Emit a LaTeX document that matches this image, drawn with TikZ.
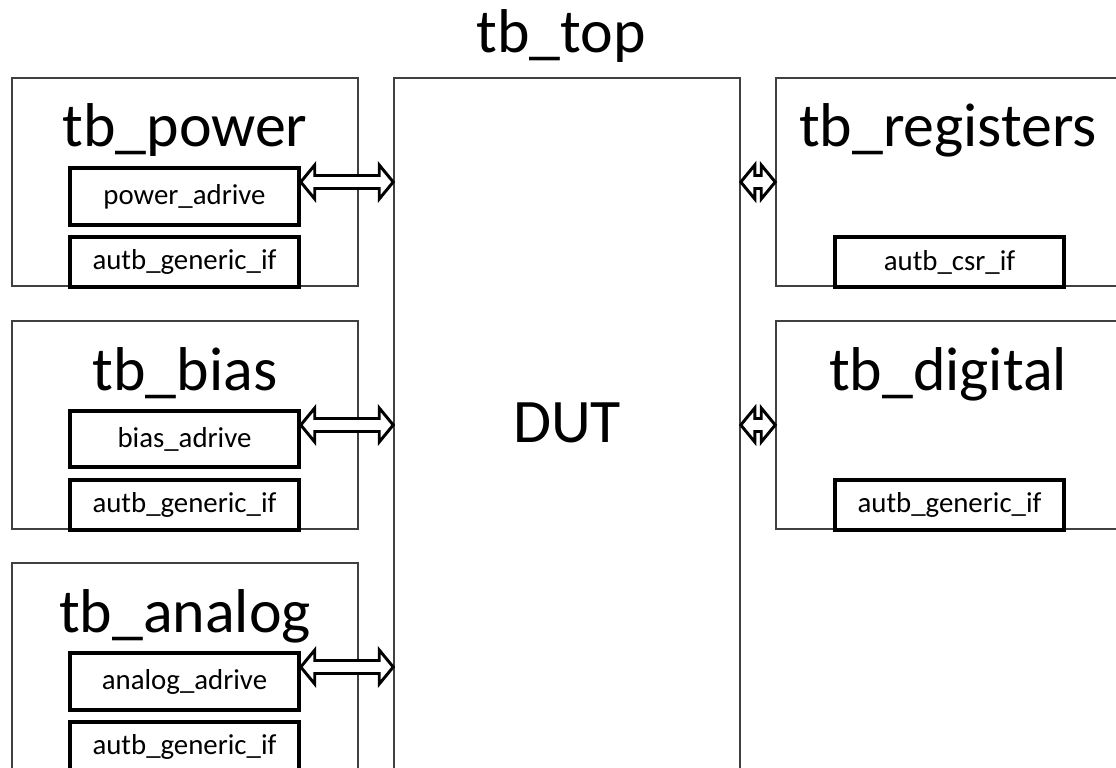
\documentclass[tikz,border=0pt]{standalone}
\usepackage{fontspec}
\setmainfont{Carlito}
\usetikzlibrary{calc}

\newcommand{\pxu}{0.025cm}
\newcommand{\bigfont}{\fontsize{44}{48}\selectfont}
\newcommand{\smallfont}{\fontsize{20.5}{24}\selectfont}

\tikzset{
  tbbox/.style={draw=black!75,line width=1.1pt,inner sep=0pt,minimum width=346*\pxu},
  ifbox/.style={draw=black,line width=2.5pt,fill=white,inner sep=0pt,minimum width=229*\pxu,font=\smallfont},
  tbtitle/.style={anchor=base,inner sep=0pt,font=\bigfont},
  bus/.style={draw=black,line width=2.1pt,fill=white,line join=miter}
}

% hollow two-headed arrow from #1 to #2 (same height)
\newcommand{\busarrow}[2]{%
  \draw[bus] (#1) -- ($(#1)+(14,-17)$) -- ($(#1)+(14,-6.5)$) -- ($(#2)+(-14,-6.5)$)
    -- ($(#2)+(-14,-17)$) -- (#2) -- ($(#2)+(-14,17)$) -- ($(#2)+(-14,6.5)$)
    -- ($(#1)+(14,6.5)$) -- ($(#1)+(14,17)$) -- cycle;}

\begin{document}
\begin{tikzpicture}[x=0.025cm,y=-0.025cm]

\useasboundingbox (0,0) rectangle (1116,768);
\clip (0,0) rectangle (1116,768);

% top level and the DUT
\node[tbtitle] (toptitle) at (561,53) {tb\_top};
\node[tbbox,minimum height=722*\pxu] (dut) at (567,439) {};
\node[tbtitle] (duttitle) at (567,442) {DUT};

% left side
\node[tbbox,minimum height=208*\pxu] (power) at (185,182) {};
\node[tbbox,minimum height=208*\pxu] (bias) at (185,425) {};
\node[tbbox,minimum height=208*\pxu] (analog) at (185,667) {};

\node[tbtitle] (powertitle) at (185,147) {tb\_power};
\node[tbtitle] (biastitle) at (185,390) {tb\_bias};
\node[tbtitle] (analogtitle) at (185,632) {tb\_analog};

\node[ifbox,minimum height=57*\pxu] (pwrdrv) at (184.5,196.5) {power\_adrive};
\node[ifbox,minimum height=50*\pxu] (pwrif) at (184.5,262) {autb\_generic\_if};
\node[ifbox,minimum height=56*\pxu] (biasdrv) at (184.5,439) {bias\_adrive};
\node[ifbox,minimum height=50*\pxu] (biasif) at (184.5,505) {autb\_generic\_if};
\node[ifbox,minimum height=57*\pxu] (anadrv) at (184.5,681.5) {analog\_adrive};
\node[ifbox,minimum height=50*\pxu] (anaif) at (184.5,747) {autb\_generic\_if};

% right side
\node[tbbox,minimum height=208*\pxu] (regs) at (949,182) {};
\node[tbbox,minimum height=208*\pxu] (digital) at (949,425) {};

\node[tbtitle] (regstitle) at (948,147) {tb\_registers};
\node[tbtitle] (digitaltitle) at (948,390) {tb\_digital};

\node[ifbox,minimum height=50*\pxu] (csrif) at (949.5,262) {autb\_csr\_if};
\node[ifbox,minimum height=50*\pxu] (digif) at (949.5,505) {autb\_generic\_if};

% connections to the DUT
\coordinate (p1) at (pwrdrv.east |- power);
\coordinate (p2) at (dut.west |- power);
\coordinate (b1) at (biasdrv.east |- bias);
\coordinate (b2) at (dut.west |- bias);
\coordinate (a1) at (anadrv.east |- analog);
\coordinate (a2) at (dut.west |- analog);
\coordinate (r1) at (dut.east |- regs);
\coordinate (d1) at (dut.east |- digital);

\busarrow{p1}{p2}
\busarrow{b1}{b2}
\busarrow{a1}{a2}
\busarrow{r1}{regs.west}
\busarrow{d1}{digital.west}

\end{tikzpicture}
\end{document}
